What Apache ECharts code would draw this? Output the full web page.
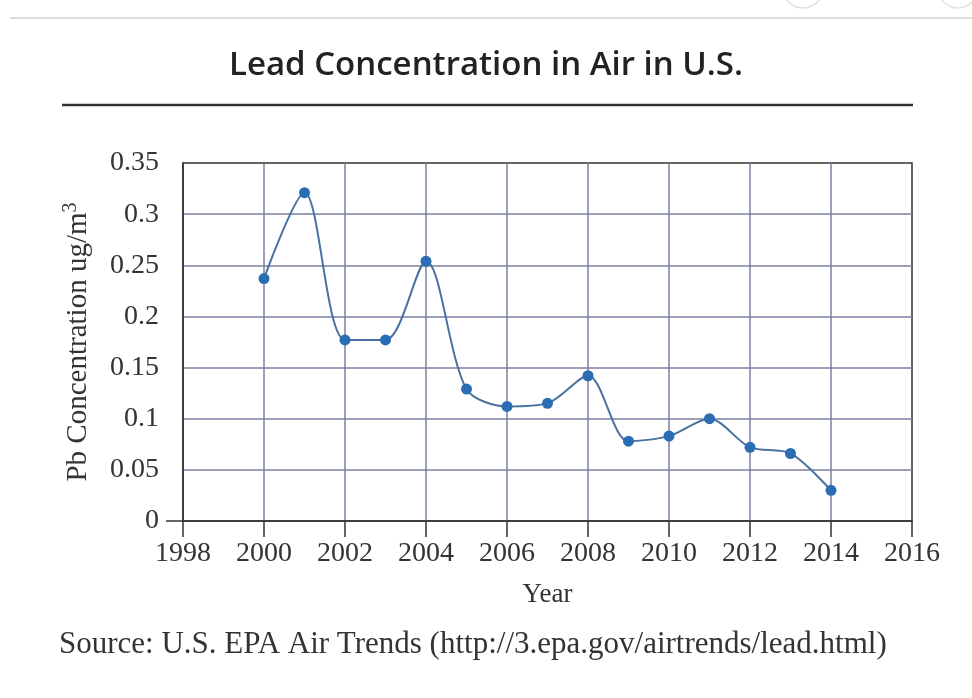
<!DOCTYPE html>
<html>
<head>
<meta charset="utf-8">
<script src="https://cdn.jsdelivr.net/npm/echarts@6/dist/echarts.min.js"></script>
<style>
html,body{margin:0;padding:0;background:#fff;}
#chart{width:972px;height:698px;}
</style>
</head>
<body>
<div id="chart"></div>
<script>
const years = [2000, 2001, 2002, 2003, 2004, 2005, 2006, 2007, 2008, 2009, 2010, 2011, 2012, 2013, 2014];
const leadValues = [0.237, 0.321, 0.177, 0.177, 0.254, 0.129, 0.112, 0.115, 0.142, 0.078, 0.083, 0.100, 0.072, 0.066, 0.030];
const titleText = 'Lead Concentration in Air in U.S.';
const sourceText = 'Source: U.S. EPA Air Trends (http://3.epa.gov/airtrends/lead.html)';
const xAxisName = 'Year';
const yAxisNameMain = 'Pb Concentration ug/m';
const yAxisNameSup = '3';

const serif = '"Liberation Serif", "DejaVu Serif", serif';
const chart = echarts.init(document.getElementById('chart'), null, {renderer: 'canvas'});

const option = {
  backgroundColor: '#fff',
  animation: false,
  title: [
    {
      text: titleText,
      left: 'center',
      top: 44,
      textStyle: {fontFamily: '"Open Sans", "Noto Sans", sans-serif', fontWeight: 600, fontSize: 33, color: '#222'}
    },
    {
      text: sourceText,
      left: 54,
      top: 624,
      textStyle: {fontFamily: serif, fontWeight: 'normal', fontSize: 31, color: '#333'}
    }
  ],
  grid: {
    left: 183, right: 60, top: 163, bottom: 177,
    show: true,
    borderColor: '#333',
    borderWidth: 1.5,
    backgroundColor: 'transparent'
  },
  xAxis: {
    type: 'value',
    min: 1998, max: 2016, interval: 2,
    name: xAxisName,
    nameLocation: 'middle',
    nameGap: 60,
    nameTextStyle: {fontFamily: serif, fontSize: 27, color: '#333'},
    axisLine: {show: true, lineStyle: {color: '#333', width: 1.5}},
    axisTick: {show: true, length: 16, inside: false, lineStyle: {color: '#333', width: 1.5}},
    axisLabel: {fontFamily: serif, fontSize: 28, color: '#333', margin: 19, formatter: v => String(v)},
    splitLine: {show: true, showMinLine: false, showMaxLine: false, lineStyle: {color: '#7a7fa0', width: 1.5}}
  },
  yAxis: {
    type: 'value',
    min: 0, max: 0.35, interval: 0.05,
    name: '{m|' + yAxisNameMain + '}{s|' + yAxisNameSup + '}',
    nameLocation: 'middle',
    nameRotate: 90,
    nameGap: 88,
    nameTextStyle: {
      rich: {
        m: {fontFamily: serif, fontSize: 29, color: '#333'},
        s: {fontFamily: serif, fontSize: 20, color: '#333', verticalAlign: 'top', padding: [0, 0, 14, 0]}
      }
    },
    axisLine: {show: true, lineStyle: {color: '#333', width: 1.5}},
    axisTick: {show: false},
    axisLabel: {fontFamily: serif, fontSize: 28, color: '#333', margin: 24},
    splitLine: {show: true, showMinLine: false, showMaxLine: false, lineStyle: {color: '#7a7fa0', width: 1.5}}
  },
  series: [{
    type: 'line',
    data: years.map((y, i) => [y, leadValues[i]]),
    smooth: 0.3,
    symbol: 'circle',
    symbolSize: 11,
    itemStyle: {color: '#2a6db3'},
    lineStyle: {color: '#4a72a0', width: 2}
  }]
};
chart.setOption(option);

// decorative page elements plus the short left extension of the x-axis at y=0
const p0 = chart.convertToPixel({gridIndex: 0}, [1998, 0]);
chart.setOption({
  graphic: [
    {type: 'line', shape: {x1: 10, y1: 18, x2: 972, y2: 18}, style: {stroke: '#dcdcdc', lineWidth: 2}, silent: true},
    {type: 'circle', shape: {cx: 803, cy: -12, r: 20}, style: {fill: 'none', stroke: '#e2e2e2', lineWidth: 1.5}, silent: true},
    {type: 'circle', shape: {cx: 958, cy: -12, r: 20}, style: {fill: 'none', stroke: '#e2e2e2', lineWidth: 1.5}, silent: true},
    {type: 'line', shape: {x1: 62, y1: 105, x2: 913, y2: 105}, style: {stroke: '#333', lineWidth: 2.5}, silent: true},
    {type: 'line', shape: {x1: p0[0] - 17, y1: p0[1], x2: p0[0], y2: p0[1]}, style: {stroke: '#333', lineWidth: 1.5}, silent: true}
  ]
});
</script>
</body>
</html>
